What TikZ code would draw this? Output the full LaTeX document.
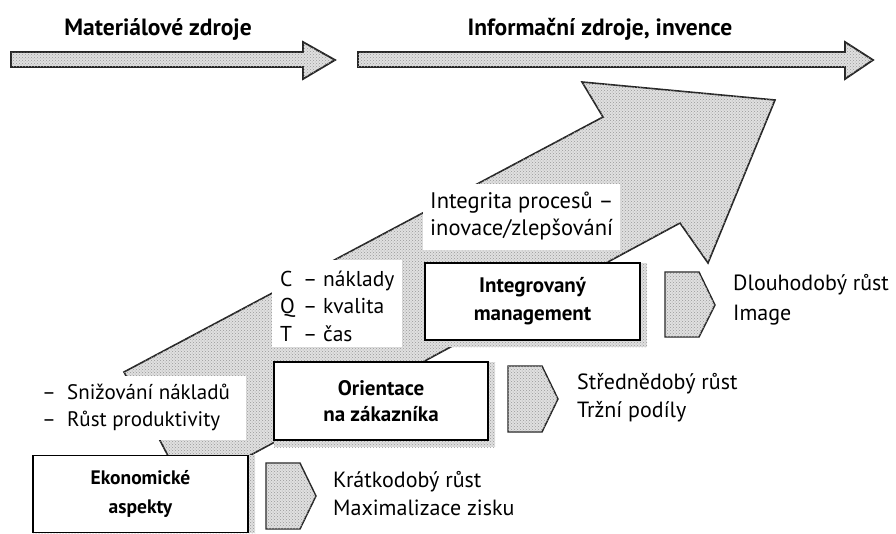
\documentclass[tikz,border=0pt]{standalone}
\usepackage{fontspec}
\setmainfont{PT Sans}
\usetikzlibrary{patterns}
\begin{document}
\begin{tikzpicture}[x=1pt,y=-1pt,
  stip/.style={fill=black!12, postaction={pattern=crosshatch dots, pattern color=black!40}},
  outl/.style={draw=black!85, line width=1.6pt, line join=miter},
  boxshade/.style={fill=black!12, postaction={pattern=crosshatch dots, pattern color=black!40}},
  stepbox/.style={draw=black, line width=1.4pt, fill=white, align=center, inner sep=0pt,
    font=\bfseries\fontsize{21}{27}\selectfont},
  lbl/.style={anchor=west, align=left, inner sep=0pt, font=\fontsize{22}{28}\selectfont},
  title/.style={inner sep=0pt, font=\bfseries\fontsize{23.5}{26}\selectfont}
]
\useasboundingbox (0,0) rectangle (896,533);

% top arrows
\node[title] (t1) at (158,29) {Materiálové zdroje};
\node[title] (t2) at (600,29) {Informační zdroje, invence};
\draw[stip, outl, line width=1.8pt] (11,52) -- (303,52) -- (303,42) -- (335,60) -- (303,79) -- (303,67) -- (11,67) -- cycle;
\draw[stip, outl, line width=1.8pt] (358,52) -- (845,52) -- (845,42) -- (873,60) -- (845,79) -- (845,67) -- (358,67) -- cycle;

% big rising arrow
\draw[stip, outl] (124,372) -- (603,117) -- (582,82) -- (775,100) -- (708,263) -- (680,223) -- (186,490) -- cycle;

% white text areas on the arrow
\fill[white] (20,376) rectangle (246,440);
\fill[white] (272,260) rectangle (402,347);
\fill[white] (423,184) rectangle (620,250);

% box shadows
\fill[boxshade] (33,455) rectangle (255,533);
\fill[boxshade] (274,362) rectangle (495,447);
\fill[boxshade] (425,263) rectangle (647,347);

% boxes
\node[stepbox, minimum width=215pt, minimum height=77pt, font=\bfseries\fontsize{19.5}{29}\selectfont] (eko) at (140.5,494) {Ekonomické\\aspekty};
\node[stepbox, minimum width=214pt, minimum height=78pt, font=\bfseries\fontsize{21}{26}\selectfont] (ori) at (381,401) {Orientace\\na zákazníka};
\node[stepbox, minimum width=215pt, minimum height=77pt, font=\bfseries\fontsize{21}{28}\selectfont] (int) at (532.5,301.5) {Integrovaný\\management};

% flags
\draw[stip, outl, line width=1.4pt] (266,463) -- (300,463) -- (316,496) -- (300,529) -- (266,529) -- cycle;
\draw[stip, outl, line width=1.4pt] (508,366) -- (542,366) -- (558,399) -- (542,432) -- (508,432) -- cycle;
\draw[stip, outl, line width=1.4pt] (665,272) -- (699,272) -- (715,305) -- (699,337) -- (665,337) -- cycle;

% labels
\node[lbl, font=\fontsize{21}{27}\selectfont] (sn) at (42,407) {\makebox[25pt][l]{–}Snižování nákladů\\\makebox[25pt][l]{–}Růst produktivity};
\node[lbl, font=\fontsize{21.5}{27.5}\selectfont] (cqt) at (280,306) {\makebox[23pt][l]{C}– náklady\\\makebox[23pt][l]{Q}– kvalita\\\makebox[23pt][l]{T}– čas};
\node[lbl, font=\fontsize{22.5}{27}\selectfont] (ig) at (430,216) {Integrita procesů –\\inovace/zlepšování};
\node[lbl] (kr) at (333,494) {Krátkodobý růst\\Maximalizace zisku};
\node[lbl] (st) at (577,398) {Střednědobý růst\\Tržní podíly};
\node[lbl, font=\fontsize{22}{30}\selectfont] (dl) at (733,300) {Dlouhodobý růst\\Image};
\end{tikzpicture}
\end{document}
